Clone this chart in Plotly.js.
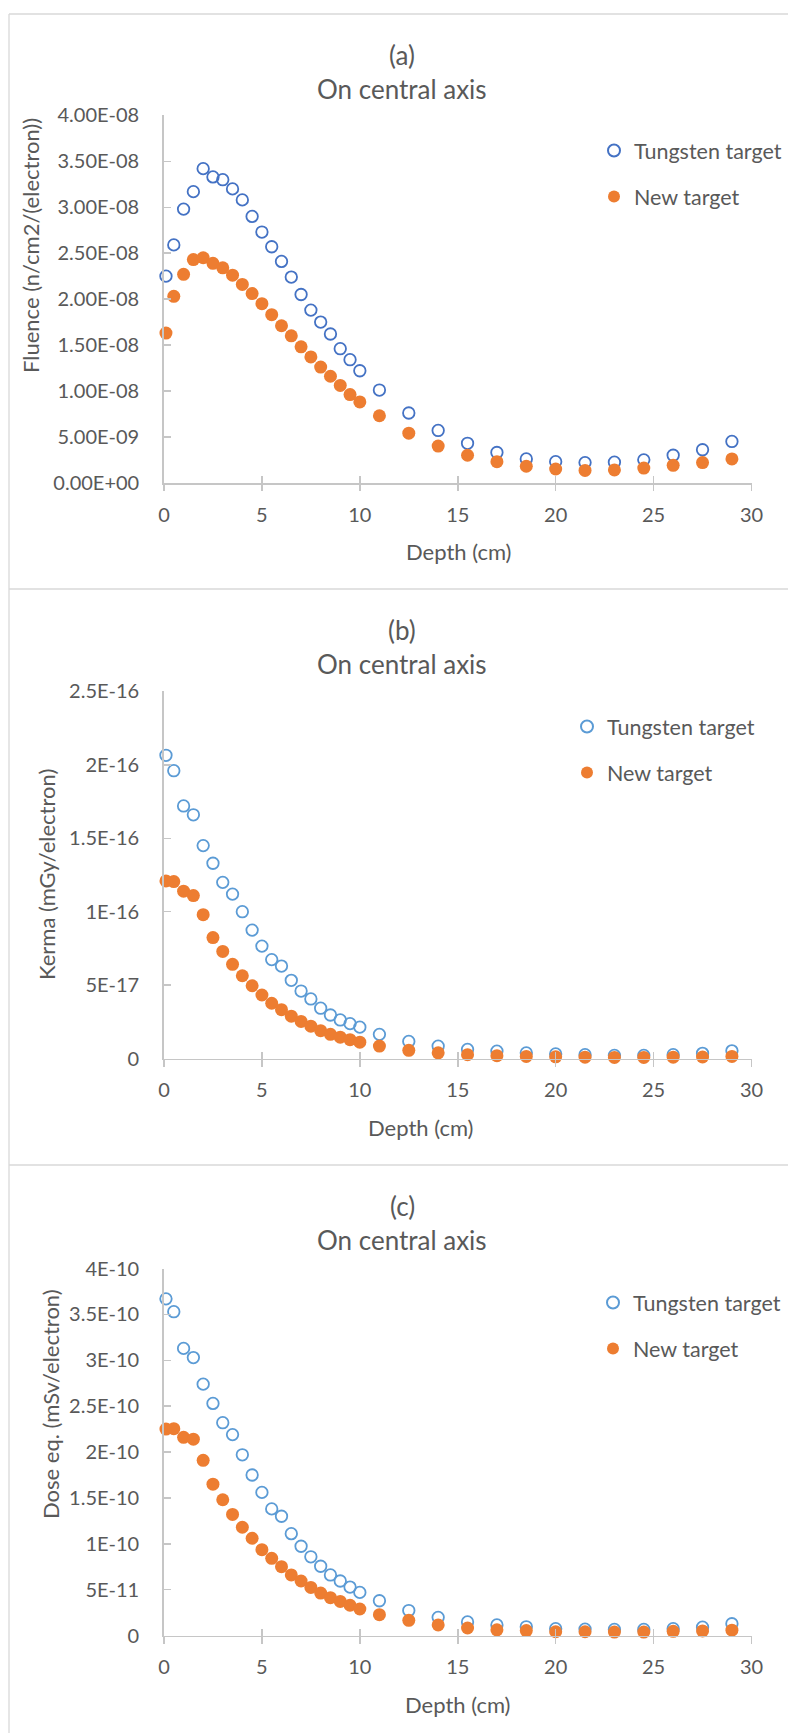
<!DOCTYPE html>
<html>
<head>
<meta charset="utf-8">
<script src="https://cdn.plot.ly/plotly-3.0.1.min.js"></script>
<style>
  html, body { margin: 0; padding: 0; background: #ffffff; }
  #chart { width: 788px; height: 1733px; }
</style>
</head>
<body>
<div id="chart"></div>
<script>
// ---------------- DATA ----------------
const depth = [0.1, 0.5, 1, 1.5, 2, 2.5, 3, 3.5, 4, 4.5, 5, 5.5, 6, 6.5, 7, 7.5, 8, 8.5, 9, 9.5, 10,
               11, 12.5, 14, 15.5, 17, 18.5, 20, 21.5, 23, 24.5, 26, 27.5, 29];

// (a) Fluence (n/cm2/(electron))
const fluenceTungsten = [2.25e-8, 2.59e-8, 2.98e-8, 3.17e-8, 3.42e-8, 3.33e-8, 3.30e-8, 3.20e-8, 3.08e-8, 2.90e-8,
                         2.73e-8, 2.57e-8, 2.41e-8, 2.24e-8, 2.05e-8, 1.88e-8, 1.75e-8, 1.62e-8, 1.46e-8, 1.34e-8,
                         1.22e-8, 1.01e-8, 7.6e-9, 5.7e-9, 4.3e-9, 3.3e-9, 2.6e-9, 2.3e-9, 2.2e-9, 2.25e-9,
                         2.5e-9, 3.0e-9, 3.6e-9, 4.5e-9];
const fluenceNew = [1.63e-8, 2.03e-8, 2.27e-8, 2.43e-8, 2.45e-8, 2.39e-8, 2.34e-8, 2.26e-8, 2.16e-8, 2.06e-8,
                    1.95e-8, 1.83e-8, 1.71e-8, 1.60e-8, 1.48e-8, 1.37e-8, 1.26e-8, 1.16e-8, 1.06e-8, 9.6e-9,
                    8.8e-9, 7.3e-9, 5.4e-9, 4.0e-9, 3.0e-9, 2.3e-9, 1.8e-9, 1.5e-9, 1.35e-9, 1.4e-9,
                    1.6e-9, 1.9e-9, 2.2e-9, 2.6e-9];

// (b) Kerma (mGy/electron)
const kermaTungsten = [2.065e-16, 1.96e-16, 1.72e-16, 1.66e-16, 1.45e-16, 1.33e-16, 1.20e-16, 1.12e-16, 1.00e-16, 8.75e-17,
                       7.66e-17, 6.74e-17, 6.30e-17, 5.33e-17, 4.60e-17, 4.06e-17, 3.43e-17, 2.97e-17, 2.63e-17, 2.38e-17,
                       2.14e-17, 1.65e-17, 1.17e-17, 8.5e-18, 6.3e-18, 5.1e-18, 3.9e-18, 3.2e-18, 2.7e-18, 2.2e-18,
                       2.2e-18, 2.7e-18, 3.6e-18, 5.3e-18];
const kermaNew = [1.21e-16, 1.205e-16, 1.14e-16, 1.11e-16, 9.8e-17, 8.24e-17, 7.3e-17, 6.42e-17, 5.64e-17, 4.96e-17,
                  4.33e-17, 3.77e-17, 3.33e-17, 2.89e-17, 2.53e-17, 2.21e-17, 1.90e-17, 1.65e-17, 1.46e-17, 1.29e-17,
                  1.12e-17, 8.5e-18, 5.6e-18, 3.9e-18, 2.7e-18, 2.0e-18, 1.5e-18, 1.2e-18, 1.0e-18, 0.8e-18,
                  0.8e-18, 1.0e-18, 1.1e-18, 1.5e-18];

// (c) Dose eq. (mSv/electron)
const doseTungsten = [3.67e-10, 3.53e-10, 3.13e-10, 3.03e-10, 2.74e-10, 2.53e-10, 2.32e-10, 2.19e-10, 1.97e-10, 1.75e-10,
                      1.56e-10, 1.38e-10, 1.30e-10, 1.11e-10, 9.73e-11, 8.58e-11, 7.55e-11, 6.6e-11, 5.94e-11, 5.28e-11,
                      4.7e-11, 3.79e-11, 2.72e-11, 1.98e-11, 1.48e-11, 1.15e-11, 9.5e-12, 7.4e-12, 7.0e-12, 6.6e-12,
                      6.6e-12, 7.4e-12, 9.1e-12, 1.28e-11];
const doseNew = [2.25e-10, 2.255e-10, 2.16e-10, 2.14e-10, 1.91e-10, 1.65e-10, 1.48e-10, 1.32e-10, 1.18e-10, 1.06e-10,
                 9.36e-11, 8.41e-11, 7.5e-11, 6.6e-11, 5.94e-11, 5.24e-11, 4.62e-11, 4.12e-11, 3.71e-11, 3.3e-11,
                 2.89e-11, 2.27e-11, 1.65e-11, 1.15e-11, 8.2e-12, 6.2e-12, 5.4e-12, 4.1e-12, 4.1e-12, 3.7e-12,
                 3.7e-12, 4.5e-12, 5.0e-12, 5.8e-12];

// tick values and labels
const xTicks = [0, 5, 10, 15, 20, 25, 30];
const yTicksA = [0, 5e-9, 1e-8, 1.5e-8, 2e-8, 2.5e-8, 3e-8, 3.5e-8, 4e-8];
const yTickTextA = ['0.00E+00', '5.00E-09', '1.00E-08', '1.50E-08', '2.00E-08', '2.50E-08', '3.00E-08', '3.50E-08', '4.00E-08'];
const yTicksB = [0, 5e-17, 1e-16, 1.5e-16, 2e-16, 2.5e-16];
const yTickTextB = ['0', '5E-17', '1E-16', '1.5E-16', '2E-16', '2.5E-16'];
const yTicksC = [0, 5e-11, 1e-10, 1.5e-10, 2e-10, 2.5e-10, 3e-10, 3.5e-10, 4e-10];
const yTickTextC = ['0', '5E-11', '1E-10', '1.5E-10', '2E-10', '2.5E-10', '3E-10', '3.5E-10', '4E-10'];

const panelLetters = ['(a)', '(b)', '(c)'];
const subTitle = 'On central axis';
const yTitles = ['Fluence (n/cm2/(electron))', 'Kerma (mGy/electron)', 'Dose eq. (mSv/electron)'];
const xTitle = 'Depth (cm)';
const seriesNames = ['Tungsten target', 'New target'];

// ---------------- LAYOUT HELPERS ----------------
const W = 788, H = 1733;
const px = v => v / W;
const py = v => 1 - v / H;

const FONT = 'Lato, "Open Sans", sans-serif';
const TXT = '#595959';
const AXC = '#c6c6c6';
const ORANGE = '#ed7d31';
const blueA = '#4472c4';
const blueBC = '#5b9bd5';

const TICK_SIZE = 20, LEG_SIZE = 21.5, TITLE_SIZE = 26, AXT_SIZE = 22;

// panel geometry (pixel positions)
const panels = [
  { top: 115.4, bottom: 482.8, panelTop: 14,   yTitleX: 30, yTitleY: 246,  xTitleX: 458, legX: 594, legY: 130, blue: blueA,
    yv: [fluenceTungsten, fluenceNew], range: [0, 4e-8], tv: yTicksA, tt: yTickTextA },
  { top: 691.4, bottom: 1058.6, panelTop: 589, yTitleX: 46, yTitleY: 875,  xTitleX: 420, legX: 567, legY: 706, blue: blueBC,
    yv: [kermaTungsten, kermaNew], range: [0, 2.5e-16], tv: yTicksB, tt: yTickTextB },
  { top: 1268.6, bottom: 1635.5, panelTop: 1165, yTitleX: 50, yTitleY: 1404, xTitleX: 457, legX: 593, legY: 1282, blue: blueBC,
    yv: [doseTungsten, doseNew], range: [0, 4e-10], tv: yTicksC, tt: yTickTextC }
];

const xLeft = 164, xRight = 751.5;
const traces = [];
const layout = {
  width: W, height: H,
  margin: { l: 0, r: 0, t: 0, b: 0, pad: 0 },
  paper_bgcolor: '#ffffff', plot_bgcolor: 'rgba(0,0,0,0)',
  font: { family: FONT, color: TXT, size: 18 },
  showlegend: true,
  annotations: [], shapes: []
};

panels.forEach((p, i) => {
  const n = i + 1;
  const xa = n === 1 ? 'x' : 'x' + n;
  const ya = n === 1 ? 'y' : 'y' + n;
  const leg = n === 1 ? 'legend' : 'legend' + n;

  traces.push({
    type: 'scatter', mode: 'markers', name: seriesNames[0],
    x: depth, y: p.yv[0], xaxis: xa, yaxis: ya, legend: leg, legendgroup: 'g' + n + 'a',
    cliponaxis: false,
    marker: { symbol: 'circle-open', size: 11.5, color: p.blue, line: { color: p.blue, width: 1.8 } },
    hoverinfo: 'x+y'
  });
  traces.push({
    type: 'scatter', mode: 'markers', name: seriesNames[1],
    x: depth, y: p.yv[1], xaxis: xa, yaxis: ya, legend: leg, legendgroup: 'g' + n + 'b',
    cliponaxis: false,
    marker: { symbol: 'circle', size: 13, color: ORANGE, line: { width: 0 } },
    hoverinfo: 'x+y'
  });

  const xKey = n === 1 ? 'xaxis' : 'xaxis' + n;
  const yKey = n === 1 ? 'yaxis' : 'yaxis' + n;
  layout[xKey] = {
    domain: [px(xLeft), px(xRight)], anchor: ya, range: [0, 30],
    tickvals: xTicks, ticks: 'inside', ticklen: 7, tickwidth: 1.5, tickcolor: AXC,
    showline: true, linecolor: AXC, linewidth: 1.8, showgrid: false, zeroline: false,
    tickfont: { family: FONT, size: TICK_SIZE, color: TXT }, ticklabelstandoff: 13,
    fixedrange: true
  };
  layout[yKey] = {
    domain: [py(p.bottom), py(p.top)], anchor: xa, range: p.range,
    tickvals: p.tv, ticktext: p.tt, ticks: 'inside', ticklen: 7, tickwidth: 1.5, tickcolor: AXC,
    showline: true, linecolor: AXC, linewidth: 1.8, showgrid: false, zeroline: false,
    tickfont: { family: FONT, size: TICK_SIZE, color: TXT }, ticklabelstandoff: 19,
    fixedrange: true
  };
  // overlay axis: outer half of the crossing x tick marks
  const ovKey = 'xaxis' + (n + 3);
  layout[ovKey] = {
    overlaying: xa, anchor: ya, range: [0, 30], tickvals: xTicks, ticks: 'outside', ticklen: 7,
    tickwidth: 1.5, tickcolor: AXC, showticklabels: false, showline: false, showgrid: false,
    zeroline: false, side: 'bottom', fixedrange: true
  };
  traces.push({ type: 'scatter', mode: 'markers', x: [], y: [], xaxis: 'x' + (n + 3), yaxis: ya,
                showlegend: false, hoverinfo: 'skip' });

  layout[leg] = {
    x: px(p.legX), y: py(p.legY), xanchor: 'left', yanchor: 'top',
    bgcolor: 'rgba(0,0,0,0)', borderwidth: 0,
    font: { family: FONT, size: LEG_SIZE, color: TXT },
    traceorder: 'grouped', tracegroupgap: 15, itemsizing: 'constant'
  };

  // titles
  layout.annotations.push({
    xref: 'paper', yref: 'paper', x: px(402), y: py(p.panelTop + 41), xanchor: 'center', yanchor: 'middle',
    text: panelLetters[i], showarrow: false, font: { family: FONT, size: TITLE_SIZE, color: TXT }
  });
  layout.annotations.push({
    xref: 'paper', yref: 'paper', x: px(402), y: py(p.panelTop + 74.5), xanchor: 'center', yanchor: 'middle',
    text: subTitle, showarrow: false, font: { family: FONT, size: TITLE_SIZE, color: TXT }
  });
  layout.annotations.push({
    xref: 'paper', yref: 'paper', x: px(p.yTitleX), y: py(p.yTitleY), xanchor: 'center', yanchor: 'middle',
    text: yTitles[i], textangle: -90, showarrow: false, font: { family: FONT, size: AXT_SIZE, color: TXT }
  });
  layout.annotations.push({
    xref: 'paper', yref: 'paper', x: px(p.xTitleX), y: py(p.bottom + 69), xanchor: 'center', yanchor: 'middle',
    text: xTitle, showarrow: false, font: { family: FONT, size: AXT_SIZE, color: TXT }
  });

  // panel frame lines
  layout.shapes.push({ type: 'line', xref: 'paper', yref: 'paper', x0: px(9), x1: 1, y0: py(p.panelTop), y1: py(p.panelTop),
                       line: { color: '#d9d9d9', width: 1.3 } });
});
layout.shapes.push({ type: 'line', xref: 'paper', yref: 'paper', x0: px(9), x1: px(9), y0: py(14), y1: 0,
                     line: { color: '#d9d9d9', width: 1.3 } });

Plotly.newPlot('chart', traces, layout, { displayModeBar: false, staticPlot: true });
</script>
</body>
</html>
